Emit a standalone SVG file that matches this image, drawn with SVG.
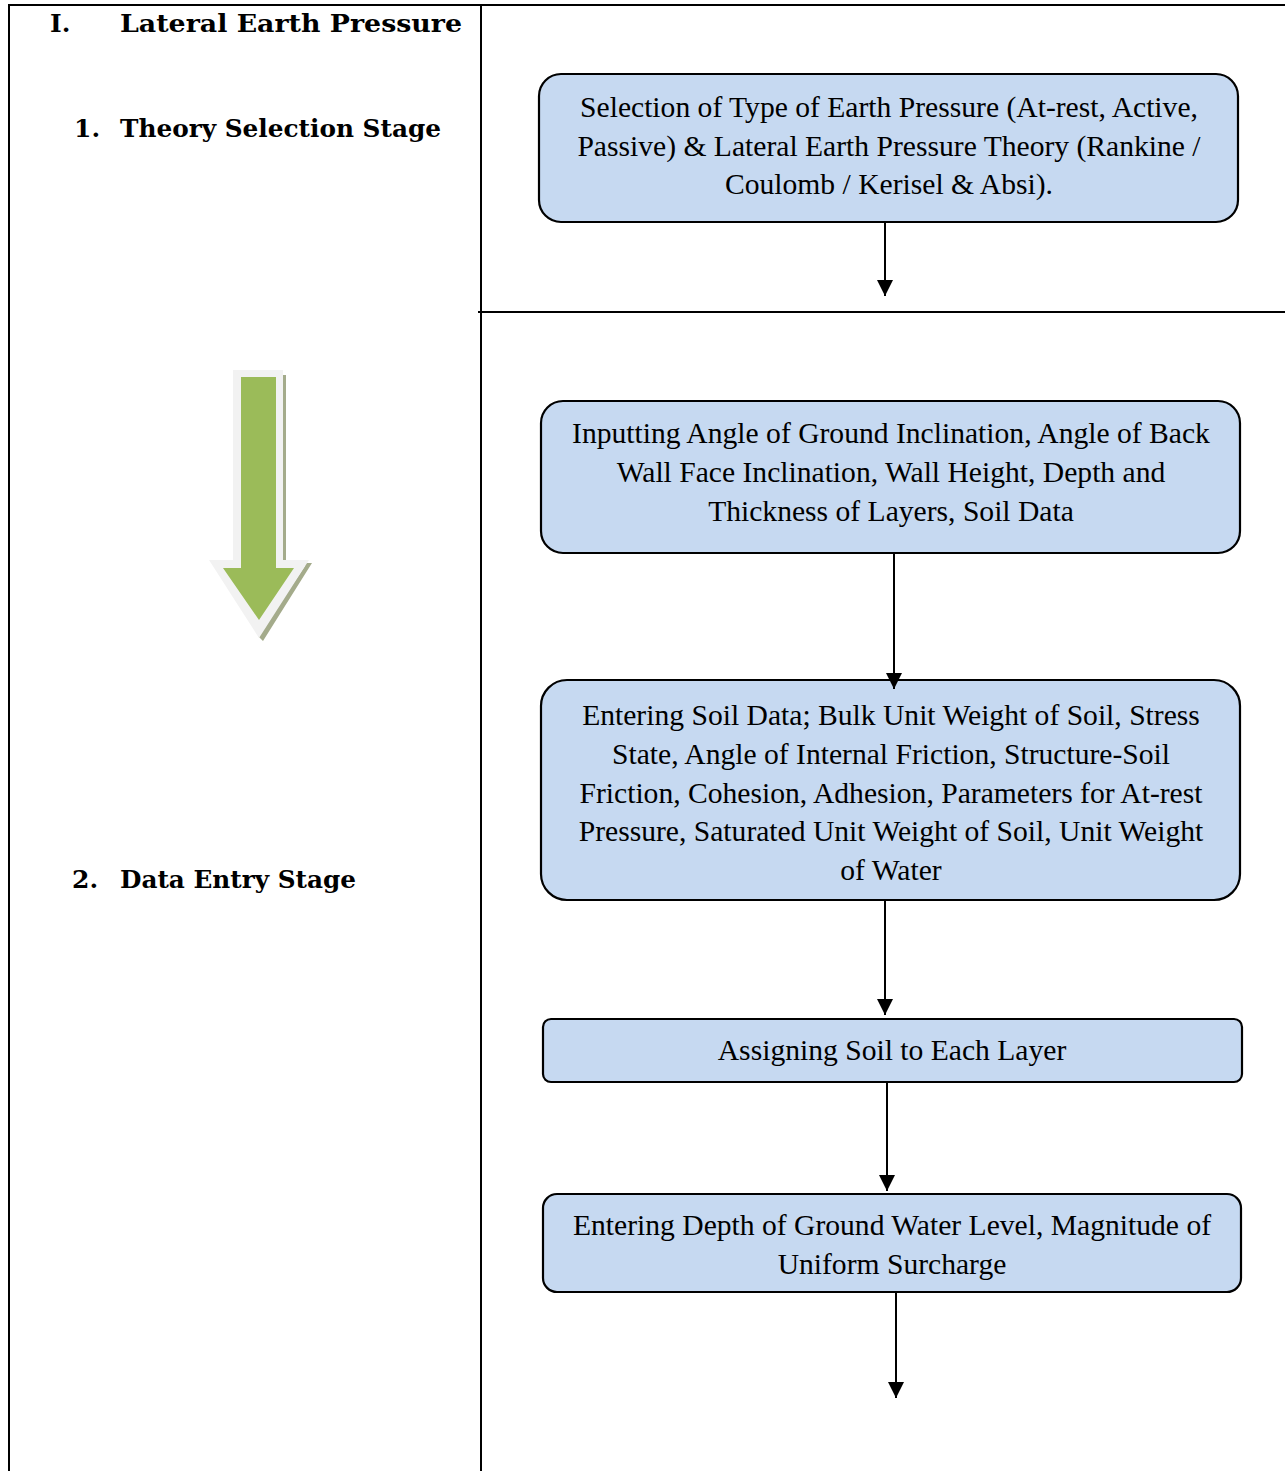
<svg xmlns="http://www.w3.org/2000/svg" width="1285" height="1471" viewBox="0 0 1285 1471">
  <defs>
    <style>
      .grid { stroke: #000; stroke-width: 2; fill: none; }
      .box { fill: #c6d9f1; stroke: #000; stroke-width: 2.2; }
      .lbl { font-family: "Liberation Serif", "Times New Roman", serif; font-size: 29.6px; fill: #000; text-anchor: middle; }
      .hdr { font-family: "DejaVu Serif", "Liberation Serif", serif; font-weight: bold; font-size: 25px; fill: #000; }
      .conn { stroke: #000; stroke-width: 2; fill: none; marker-end: url(#arrow); }
    </style>
    <marker id="arrow" viewBox="0 0 10 10" refX="10" refY="5" markerWidth="16" markerHeight="16" markerUnits="userSpaceOnUse" orient="auto">
      <path d="M0,0 L10,5 L0,10 z" fill="#000"/>
    </marker>
  </defs>

  <rect width="1285" height="1471" fill="#fff"/>

  <!-- table rules -->
  <g id="table">
    <line class="grid" x1="8" y1="5" x2="1285" y2="5"/>
    <line class="grid" x1="9" y1="5" x2="9" y2="1471"/>
    <line class="grid" x1="481" y1="5" x2="481" y2="1471"/>
    <line class="grid" x1="478" y1="312" x2="1285" y2="312"/>
  </g>

  <!-- stage headings -->
  <g id="headings">
    <text class="hdr" x="50" y="32">I.</text>
    <text class="hdr" x="120" y="32" textLength="342" lengthAdjust="spacingAndGlyphs">Lateral Earth Pressure</text>
    <text class="hdr" x="74" y="137">1.</text>
    <text class="hdr" x="120" y="137" textLength="321" lengthAdjust="spacingAndGlyphs">Theory Selection Stage</text>
    <text class="hdr" x="72" y="888">2.</text>
    <text class="hdr" x="120" y="888" textLength="236" lengthAdjust="spacingAndGlyphs">Data Entry Stage</text>
  </g>

  <!-- big green down arrow -->
  <g id="stage-arrow">
    <path d="M286,375 L286,563 L312,563 L263,641 L258,636 L305,566 L283,566 L283,375 z" fill="#a4ab8b"/>
    <path d="M233,370 L283,370 L283,560 L309,560 L259,638 L209,560 L233,560 z" fill="#f2f2f2"/>
    <path d="M241,377 L276,377 L276,568 L294,568 L259,620 L223,568 L241,568 z" fill="#9bbb59"/>
  </g>

  <!-- process boxes -->
  <g id="node-theory">
    <rect class="box" x="539" y="74" width="699" height="148" rx="22"/>
    <text class="lbl" x="889" y="117">Selection of Type of Earth Pressure (At-rest, Active,</text>
    <text class="lbl" x="889" y="156">Passive) &amp; Lateral Earth Pressure Theory (Rankine /</text>
    <text class="lbl" x="889" y="194">Coulomb / Kerisel &amp; Absi).</text>
  </g>

  <g id="node-geometry">
    <rect class="box" x="541" y="401" width="699" height="152" rx="22"/>
    <text class="lbl" x="891" y="443">Inputting Angle of Ground Inclination, Angle of Back</text>
    <text class="lbl" x="891" y="482">Wall Face Inclination, Wall Height, Depth and</text>
    <text class="lbl" x="891" y="521">Thickness of Layers, Soil Data</text>
  </g>

  <g id="node-soil">
    <rect class="box" x="541" y="680" width="699" height="220" rx="26"/>
    <text class="lbl" x="891" y="725">Entering Soil Data; Bulk Unit Weight of Soil, Stress</text>
    <text class="lbl" x="891" y="764">State, Angle of Internal Friction, Structure-Soil</text>
    <text class="lbl" x="891" y="803">Friction, Cohesion, Adhesion, Parameters for At-rest</text>
    <text class="lbl" x="891" y="841">Pressure, Saturated Unit Weight of Soil, Unit Weight</text>
    <text class="lbl" x="891" y="880">of Water</text>
  </g>

  <g id="node-assign">
    <rect class="box" x="543" y="1019" width="699" height="63" rx="8"/>
    <text class="lbl" x="892" y="1060">Assigning Soil to Each Layer</text>
  </g>

  <g id="node-water">
    <rect class="box" x="543" y="1194" width="698" height="98" rx="14"/>
    <text class="lbl" x="892" y="1235">Entering Depth of Ground Water Level, Magnitude of</text>
    <text class="lbl" x="892" y="1274">Uniform Surcharge</text>
  </g>

  <!-- connectors -->
  <g id="connectors">
    <line class="conn" x1="885" y1="222" x2="885" y2="296"/>
    <line class="conn" x1="894" y1="553" x2="894" y2="689"/>
    <line class="conn" x1="885" y1="900" x2="885" y2="1015"/>
    <line class="conn" x1="887" y1="1082" x2="887" y2="1191"/>
    <line class="conn" x1="896" y1="1292" x2="896" y2="1398"/>
  </g>
</svg>
